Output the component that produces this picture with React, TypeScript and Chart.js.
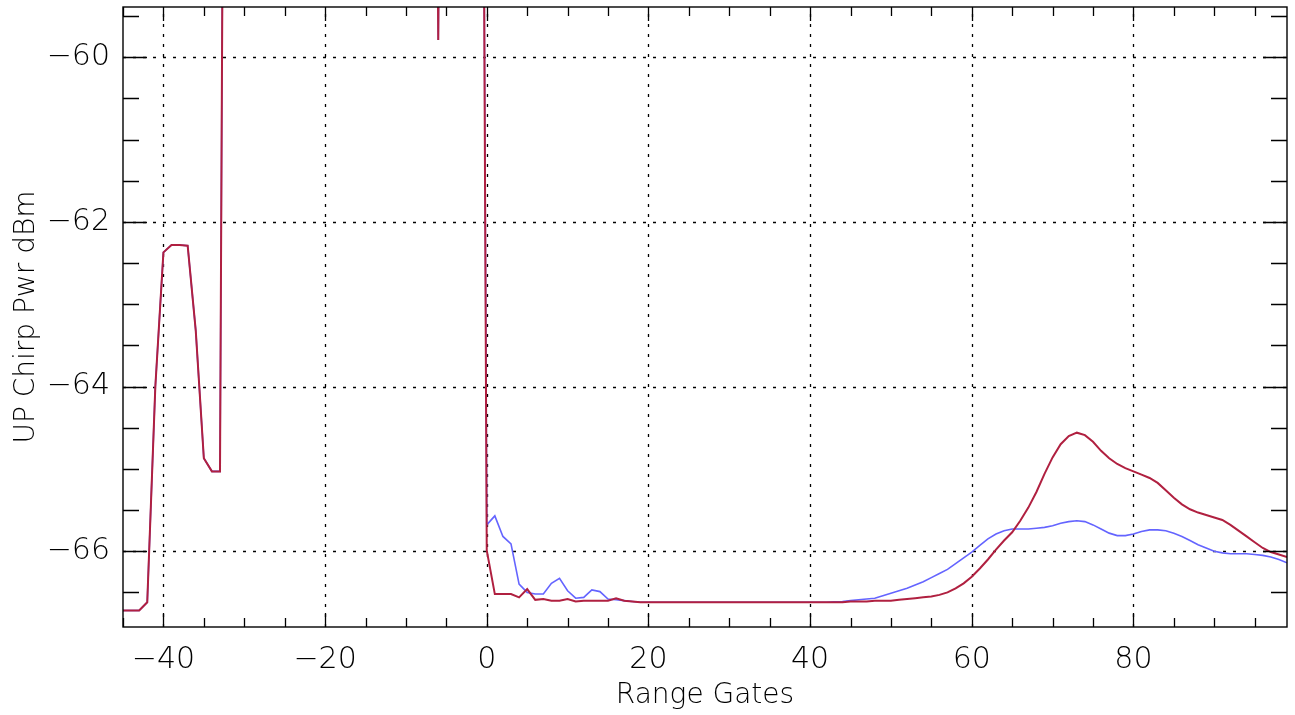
import React, { useEffect, useRef } from "react";
import { Chart, registerables } from "chart.js";

Chart.register(...registerables);

// Range gates shown on the x axis
const firstGate = -45;
const lastGate = 99;
const gates: number[] = Array.from({ length: lastGate - firstGate + 1 }, (_, i) => firstGate + i);

// Gates -45 .. -1 (identical in both series); -45 marks saturated values above the plot
const sharedLeft: number[] = [
  -66.72, -66.72, -66.72, -66.62, -64.0, -62.37, -62.28, -62.28, -62.29, -63.32,
  -64.87, -65.03, -65.03,
  -45, -45, -45, -45, -45, -45, -45, -45, -45, -45, -45, -45, -45,
  -45, -45, -45, -45, -45, -45, -45, -45, -45, -45, -45, -45, -45,
  -59.79,
  -45, -45, -45, -45, -45,
];

// Gates 0 .. 99, blue series
const blueRight: number[] = [
  -65.68, -65.57, -65.82, -65.91, -66.40, -66.50, -66.52, -66.52, -66.39, -66.33,
  -66.48, -66.57, -66.56, -66.47, -66.49, -66.58, -66.59, -66.60, -66.61,
  -66.62, -66.62, -66.62, -66.62, -66.62, -66.62, -66.62, -66.62, -66.62, -66.62,
  -66.62, -66.62, -66.62, -66.62, -66.62, -66.62, -66.62, -66.62, -66.62, -66.62,
  -66.62, -66.62, -66.62, -66.62,
  -66.615, -66.61, -66.60, -66.59, -66.58, -66.57, -66.54, -66.51, -66.48, -66.45,
  -66.41, -66.37, -66.32, -66.27, -66.22, -66.15, -66.08, -66.01, -65.93, -65.85,
  -65.79, -65.75, -65.73, -65.73, -65.73, -65.72, -65.71, -65.69, -65.66, -65.64,
  -65.63, -65.64, -65.68, -65.73, -65.78, -65.81, -65.81, -65.79, -65.76, -65.74,
  -65.74, -65.75, -65.78, -65.82, -65.87, -65.92, -65.96, -66.00, -66.02, -66.03,
  -66.03, -66.03, -66.04, -66.05, -66.07, -66.10, -66.14,
];

// Gates 0 .. 99, red series
const redRight: number[] = [
  -65.99, -66.52, -66.52, -66.52, -66.56, -66.46, -66.59, -66.58, -66.60, -66.60,
  -66.58, -66.61, -66.60, -66.60, -66.60, -66.60, -66.57, -66.60, -66.61,
  -66.62, -66.62, -66.62, -66.62, -66.62, -66.62, -66.62, -66.62, -66.62, -66.62,
  -66.62, -66.62, -66.62, -66.62, -66.62, -66.62, -66.62, -66.62, -66.62, -66.62,
  -66.62, -66.62, -66.62, -66.62, -66.62, -66.62,
  -66.61, -66.61, -66.61, -66.60, -66.60, -66.60,
  -66.59, -66.58, -66.57, -66.56, -66.55, -66.53, -66.50, -66.45, -66.39, -66.31,
  -66.21, -66.10, -65.98, -65.87, -65.77, -65.63, -65.47, -65.28, -65.06, -64.86,
  -64.70, -64.60, -64.56, -64.59, -64.67, -64.78, -64.87, -64.94, -64.99, -65.03,
  -65.07, -65.11, -65.17, -65.26, -65.35, -65.43, -65.49, -65.53, -65.56, -65.59,
  -65.62, -65.68, -65.75, -65.82, -65.89, -65.96, -66.01, -66.04, -66.07,
];

const blueSeries = [...sharedLeft, ...blueRight];
const redSeries = [...sharedLeft, ...redRight];

const yMin = -66.92;
const yMax = -59.39;
const xMajorStep = 20;
const xMinorStep = 5;
const yMajorStep = 2;
const yMinorStep = 0.5;

const FONT = "'DejaVu Sans', 'Liberation Sans', sans-serif";
const TICK_FONT = { family: FONT, size: 30, weight: "200" as any };
const TITLE_FONT = { family: FONT, size: 28, weight: "200" as any };

const fmt = (v: number) => (v < 0 ? "\u2212" + Math.abs(v) : String(v));

const idlFrame = {
  id: "idlFrame",
  beforeDatasetsDraw(chart: any) {
    const { ctx, chartArea: a, scales } = chart;
    const x = scales.x;
    const y = scales.y;
    ctx.save();
    ctx.beginPath();
    ctx.rect(a.left, a.top, a.right - a.left, a.bottom - a.top);
    ctx.clip();
    ctx.strokeStyle = "#000";
    ctx.lineWidth = 1.3;
    ctx.setLineDash([3, 7]);
    for (const t of x.ticks) {
      const px = Math.round(x.getPixelForValue(t.value)) + 0.5;
      ctx.beginPath();
      ctx.moveTo(px, a.bottom);
      ctx.lineTo(px, a.top);
      ctx.stroke();
    }
    for (const t of y.ticks) {
      const py = Math.round(y.getPixelForValue(t.value)) + 0.5;
      ctx.beginPath();
      ctx.moveTo(a.left, py);
      ctx.lineTo(a.right, py);
      ctx.stroke();
    }
    ctx.restore();
  },
  afterDatasetsDraw(chart: any) {
    const { ctx, chartArea: a, scales } = chart;
    const x = scales.x;
    const y = scales.y;
    ctx.save();
    ctx.strokeStyle = "#000";
    ctx.lineWidth = 1.3;
    ctx.setLineDash([]);
    // x ticks top & bottom
    for (let v = Math.ceil(x.min / xMinorStep) * xMinorStep; v <= x.max; v += xMinorStep) {
      const major = Math.abs(v % xMajorStep) < 1e-9;
      const len = major ? 14 : 9;
      const px = Math.round(x.getPixelForValue(v)) + 0.5;
      ctx.beginPath();
      ctx.moveTo(px, a.bottom);
      ctx.lineTo(px, a.bottom - len);
      ctx.moveTo(px, a.top);
      ctx.lineTo(px, a.top + len);
      ctx.stroke();
    }
    // y ticks left & right
    for (let k = Math.ceil(y.min / yMinorStep); k * yMinorStep <= y.max; k++) {
      const v = k * yMinorStep;
      const major = k % Math.round(yMajorStep / yMinorStep) === 0;
      const len = major ? 24 : 16;
      const py = Math.round(y.getPixelForValue(v)) + 0.5;
      ctx.beginPath();
      ctx.moveTo(a.left, py);
      ctx.lineTo(a.left + len, py);
      ctx.moveTo(a.right, py);
      ctx.lineTo(a.right - len, py);
      ctx.stroke();
    }
    ctx.lineWidth = 1.4;
    ctx.strokeRect(a.left, a.top, a.right - a.left, a.bottom - a.top);
    ctx.restore();
  },
};

export default function App() {
  const ref = useRef<HTMLCanvasElement | null>(null);

  useEffect(() => {
    if (!ref.current) return;
    const chart = new Chart(ref.current, {
      type: "line",
      data: {
        labels: gates,
        datasets: [
          {
            label: "red",
            data: gates.map((g, i) => ({ x: g, y: redSeries[i] })),
            borderColor: "rgb(176,32,64)",
            borderWidth: 2,
            pointRadius: 0,
            tension: 0,
            fill: false,
          },
          {
            label: "blue",
            data: gates.map((g, i) => ({ x: g, y: blueSeries[i] })),
            borderColor: "rgb(100,100,255)",
            borderWidth: 1.6,
            pointRadius: 0,
            tension: 0,
            fill: false,
          },
        ],
      },
      options: {
        animation: false,
        responsive: true,
        maintainAspectRatio: false,
        layout: { padding: { left: 0, right: 8, top: 7, bottom: 0 } },
        plugins: { legend: { display: false }, tooltip: { enabled: false } },
        scales: {
          x: {
            type: "linear",
            min: firstGate,
            max: lastGate,
            grid: { display: false, drawTicks: false },
            border: { display: false },
            ticks: {
              stepSize: xMajorStep,
              includeBounds: false,
              autoSkip: false,
              maxRotation: 0,
              padding: 15,
              color: "#000",
              font: TICK_FONT,
              callback: (v: any) => fmt(Number(v)),
            },
            title: {
              display: true,
              text: "Range Gates",
              color: "#000",
              font: TITLE_FONT,
              padding: { top: 0, bottom: 2 },
            },
            afterFit: (s: any) => {
              s.height = 88;
              s.paddingLeft = 0;
              s.paddingRight = 0;
            },
          },
          y: {
            type: "linear",
            min: yMin,
            max: yMax,
            grid: { display: false, drawTicks: false },
            border: { display: false },
            ticks: {
              stepSize: yMajorStep,
              includeBounds: false,
              autoSkip: false,
              padding: 13,
              color: "#000",
              font: TICK_FONT,
              callback: (v: any) => fmt(Number(v)),
            },
            title: {
              display: true,
              text: "UP Chirp Pwr dBm",
              color: "#000",
              font: TITLE_FONT,
              padding: { top: 10, bottom: 0 },
            },
            afterFit: (s: any) => {
              s.width = 123;
              s.paddingTop = 0;
              s.paddingBottom = 0;
            },
          },
        },
      },
      plugins: [idlFrame],
    });
    return () => chart.destroy();
  }, []);

  return (
    <div style={{ position: "fixed", left: 0, top: 0, width: 1295, height: 715, background: "#fff" }}>
      <canvas ref={ref} />
    </div>
  );
}
